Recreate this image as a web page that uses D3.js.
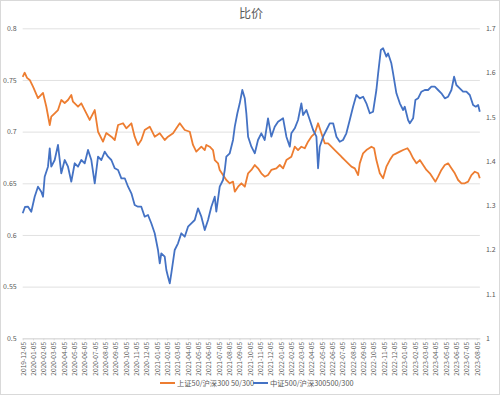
<!DOCTYPE html>
<html><head><meta charset="utf-8">
<script src="https://cdn.jsdelivr.net/npm/d3@7"></script>
<style>
html,body{margin:0;padding:0;background:#fff;}
svg{display:block;font-family:"Noto Sans CJK SC","Noto Sans",sans-serif;}
</style></head>
<body>
<svg id="chart" width="500" height="395"></svg>
<script>
// ---- data (x = month index from 2019-12-05) ----
const title = "比价";
const tickLabels = ["2019-12-05","2020-01-05","2020-02-05","2020-03-05","2020-04-05","2020-05-05","2020-06-05","2020-07-05","2020-08-05","2020-09-05","2020-10-05","2020-11-05","2020-12-05","2021-01-05","2021-02-05","2021-03-05","2021-04-05","2021-05-05","2021-06-05","2021-07-05","2021-08-05","2021-09-05","2021-10-05","2021-11-05","2021-12-05","2022-01-05","2022-02-05","2022-03-05","2022-04-05","2022-05-05","2022-06-05","2022-07-05","2022-08-05","2022-09-05","2022-10-05","2022-11-05","2022-12-05","2023-01-05","2023-02-05","2023-03-05","2023-04-05","2023-05-05","2023-06-05","2023-07-05","2023-08-05"];
const leftTicks = [0.5,0.55,0.6,0.65,0.7,0.75,0.8];
const rightTicks = [1,1.1,1.2,1.3,1.4,1.5,1.6,1.7];
const seriesNames = ["上证50/沪深300 50/300","中证500/沪深300500/300"];

const sz50X = [0,0.19,0.42,0.68,1.0,1.48,1.97,2.29,2.62,2.77,3.10,3.42,3.74,4.07,4.39,4.71,4.87,5.36,5.68,6.01,6.49,6.98,7.30,7.78,8.10,8.59,8.92,9.24,9.72,10.04,10.53,10.85,11.17,11.49,11.82,12.31,12.79,13.28,13.76,14.08,14.57,14.89,15.22,15.70,16.19,16.50,16.82,17.31,17.64,17.79,18.12,18.44,18.61,18.93,19.09,19.41,19.73,20.06,20.38,20.55,20.87,21.19,21.52,21.84,22.16,22.49,22.80,23.12,23.45,23.77,24.09,24.58,24.91,25.23,25.55,26.03,26.36,26.68,27.0,27.33,27.65,27.97,28.30,28.62,28.94,29.27,29.59,29.91,30.24,30.56,30.88,31.21,31.53,31.85,32.18,32.50,32.66,32.98,33.30,33.79,34.05,34.27,34.60,34.92,35.24,35.57,35.89,36.21,36.54,36.86,37.28,37.51,37.83,38.15,38.48,38.80,39.12,39.45,39.77,39.99,40.25,40.57,40.90,41.22,41.54,41.87,42.19,42.51,42.84,43.16,43.48,43.81,44.13,44.29];
const sz50Y = [0.753,0.757,0.752,0.750,0.7435,0.7325,0.7374,0.7241,0.7064,0.7145,0.7177,0.7209,0.7306,0.7277,0.7306,0.7355,0.729,0.7241,0.7274,0.7209,0.7113,0.7209,0.6999,0.6903,0.6987,0.6951,0.6919,0.7064,0.7081,0.7032,0.7081,0.6951,0.6871,0.6919,0.7016,0.7048,0.6951,0.6984,0.6919,0.6951,0.6984,0.7032,0.7081,0.7016,0.6999,0.6871,0.6806,0.6854,0.6822,0.6871,0.6854,0.6822,0.6725,0.6693,0.6629,0.658,0.6532,0.65,0.6516,0.6419,0.6467,0.65,0.6467,0.6597,0.6629,0.6677,0.6645,0.6597,0.6564,0.658,0.6629,0.6645,0.6677,0.6645,0.6725,0.6757,0.6854,0.6822,0.6854,0.6839,0.6903,0.6951,0.6984,0.7081,0.6984,0.6887,0.6887,0.6854,0.6822,0.679,0.6757,0.6725,0.6693,0.6661,0.6645,0.658,0.6693,0.679,0.6822,0.6854,0.6839,0.6725,0.6597,0.6548,0.6661,0.6725,0.6774,0.679,0.6806,0.6822,0.6839,0.6806,0.6742,0.6693,0.6725,0.6677,0.6629,0.6597,0.6548,0.6516,0.6564,0.6629,0.6677,0.6693,0.6645,0.6597,0.6532,0.65,0.65,0.6516,0.658,0.6612,0.6597,0.6548];

const zz500X = [0,0.22,0.52,0.83,1.16,1.48,1.80,1.97,2.13,2.45,2.62,2.77,3.10,3.42,3.74,4.07,4.39,4.71,5.04,5.36,5.68,6.01,6.33,6.65,6.98,7.30,7.62,7.95,8.27,8.59,8.92,9.24,9.56,9.89,10.21,10.53,10.85,11.17,11.49,11.82,12.14,12.46,12.79,13.11,13.28,13.43,13.76,13.92,14.08,14.25,14.40,14.73,15.05,15.37,15.70,16.02,16.34,16.67,16.99,17.31,17.64,17.96,18.28,18.61,18.76,19.09,19.41,19.58,19.73,20.06,20.38,20.55,20.80,21.03,21.28,21.52,21.67,21.84,22.16,22.49,22.80,23.12,23.45,23.77,24.09,24.42,24.74,25.23,25.55,25.88,26.03,26.36,26.68,27.0,27.17,27.49,27.82,28.14,28.46,28.62,28.78,29.11,29.43,29.75,30.08,30.40,30.72,31.04,31.36,31.69,32.01,32.33,32.66,32.98,33.30,33.63,33.95,34.27,34.44,34.70,34.92,35.24,35.40,35.72,35.89,36.05,36.21,36.54,36.86,37.02,37.34,37.51,37.83,38.05,38.31,38.63,38.96,39.28,39.60,39.93,40.25,40.57,40.90,41.22,41.54,41.80,42.02,42.35,42.67,42.99,43.32,43.64,43.90,44.13,44.29];
const zz500Y = [1.2823,1.2965,1.2972,1.2859,1.3197,1.3423,1.331,1.3197,1.3649,1.3875,1.429,1.3875,1.4026,1.4365,1.3726,1.4026,1.3875,1.3536,1.3952,1.3875,1.4026,1.3952,1.4252,1.4026,1.35,1.4101,1.4026,1.4214,1.4101,1.4026,1.3839,1.38,1.3613,1.3613,1.3423,1.3274,1.301,1.2972,1.2972,1.2746,1.2784,1.2597,1.2371,1.1994,1.1694,1.1919,1.1843,1.1542,1.1391,1.1242,1.1468,1.1994,1.2145,1.2371,1.2294,1.252,1.2597,1.2671,1.2935,1.2746,1.2445,1.2671,1.2972,1.3197,1.2859,1.3423,1.3575,1.38,1.4101,1.4177,1.4478,1.4778,1.5081,1.5306,1.5607,1.5419,1.5081,1.4552,1.4327,1.4177,1.4478,1.4629,1.4478,1.4968,1.4552,1.4778,1.4891,1.4968,1.4552,1.4327,1.4629,1.4742,1.4929,1.5306,1.5042,1.5155,1.4929,1.4704,1.4552,1.3839,1.4327,1.4552,1.4704,1.4855,1.4855,1.4552,1.4439,1.4478,1.4629,1.4929,1.523,1.5494,1.5419,1.5455,1.5306,1.5081,1.5117,1.5607,1.5984,1.651,1.6548,1.6359,1.6435,1.621,1.5984,1.5758,1.5532,1.5306,1.5155,1.523,1.4929,1.4855,1.4968,1.5381,1.5419,1.5568,1.5607,1.5607,1.5681,1.5681,1.5607,1.5532,1.5419,1.5455,1.5607,1.5907,1.572,1.5645,1.5568,1.5568,1.5494,1.5268,1.523,1.5268,1.5117];

const colors = ["#ED7D31","#4472C4"];

// ---- drawing ----
const svg = d3.select("#chart");
const W = 500, H = 395;
const plot = {left: 22.7, right: 479.9, top: 28.3, bottom: 338.3};
const txt = "#595959", grid = "#d9d9d9";

svg.append("rect").attr("x",0.5).attr("y",0.5).attr("width",W-1).attr("height",H-1)
  .attr("fill","#fff").attr("stroke","#d9d9d9").attr("stroke-width",1);

const x = d3.scaleLinear().domain([0, 44.3]).range([plot.left, plot.right]);
const yL = d3.scaleLinear().domain([0.5, 0.8]).range([plot.bottom, plot.top]);
const yR = d3.scaleLinear().domain([1, 1.7]).range([plot.bottom, plot.top]);

// title
svg.append("text").attr("x", 251).attr("y", 18).attr("text-anchor","middle")
  .attr("font-size", 12).attr("fill", txt).text(title);

// left axis with gridlines
const gL = svg.append("g").attr("transform",`translate(${plot.left},0)`)
  .call(d3.axisLeft(yL).tickValues(leftTicks).tickFormat(d => String(+d.toFixed(2)))
    .tickSize(-(plot.right - plot.left)).tickPadding(6));
gL.select(".domain").remove();
gL.selectAll("line").attr("stroke", grid).attr("stroke-width", 0.8);
gL.selectAll("text").attr("fill", txt).attr("font-size", 7).attr("font-family","Noto Sans CJK SC, sans-serif");

// right axis labels
const gR = svg.append("g").attr("transform",`translate(${plot.right},0)`)
  .call(d3.axisRight(yR).tickValues(rightTicks).tickFormat(d => String(+d.toFixed(1))).tickSize(0).tickPadding(6));
gR.select(".domain").remove();
gR.selectAll("text").attr("fill", txt).attr("font-size", 7).attr("font-family","Noto Sans CJK SC, sans-serif");

// x axis labels
const xTicks = tickLabels.map((_, i) => i);
const gX = svg.append("g").attr("transform",`translate(0,${plot.bottom})`)
  .call(d3.axisBottom(x).tickValues(xTicks).tickFormat(i => tickLabels[i]).tickSize(2).tickSizeOuter(0));
gX.select(".domain").attr("stroke", grid);
gX.selectAll("line").attr("stroke", grid);
gX.selectAll("text").attr("fill", txt).attr("font-size", 6.6).attr("font-family","Noto Sans CJK SC, sans-serif")
  .attr("transform","rotate(-90)").attr("text-anchor","end")
  .attr("x", -3.5).attr("y", 0).attr("dy", "0.35em");

// lines
const lineL = d3.line().x(d => x(d[0])).y(d => yL(d[1]));
const lineR = d3.line().x(d => x(d[0])).y(d => yR(d[1]));
svg.append("path").datum(sz50X.map((v,i)=>[v, sz50Y[i]]))
  .attr("d", lineL).attr("fill","none").attr("stroke", colors[0]).attr("stroke-width", 1.8)
  .attr("stroke-linejoin","round");
svg.append("path").datum(zz500X.map((v,i)=>[v, zz500Y[i]]))
  .attr("d", lineR).attr("fill","none").attr("stroke", colors[1]).attr("stroke-width", 1.8)
  .attr("stroke-linejoin","round");

// legend
const leg = [{x:160, name: seriesNames[0], c: colors[0]}, {x:253, name: seriesNames[1], c: colors[1]}];
leg.forEach(l => {
  svg.append("line").attr("x1", l.x).attr("x2", l.x + 15).attr("y1", 383).attr("y2", 383)
    .attr("stroke", l.c).attr("stroke-width", 2);
  svg.append("text").attr("x", l.x + 17).attr("y", 385.5).attr("font-size", 7.3)
    .attr("fill", txt).text(l.name);
});
</script>
</body></html>
